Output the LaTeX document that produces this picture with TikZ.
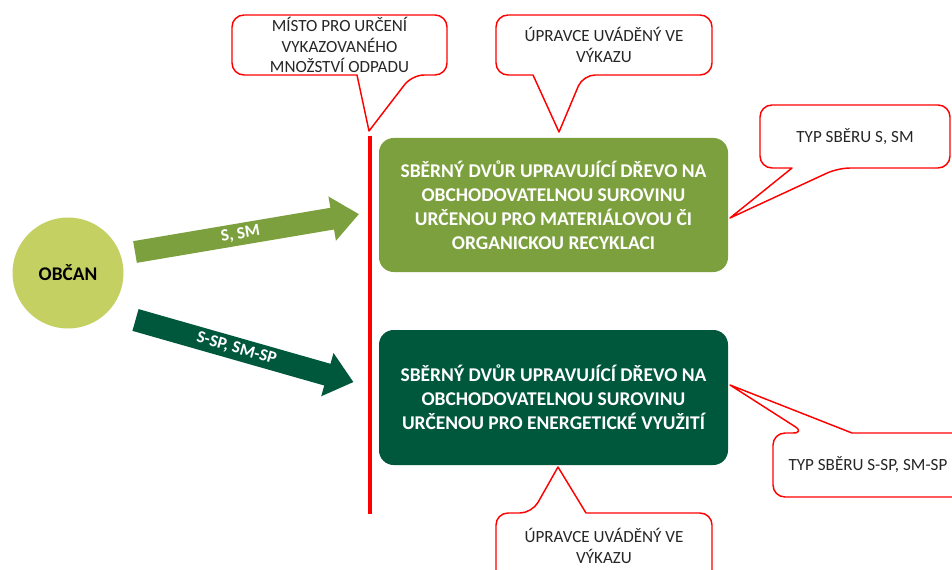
\documentclass[tikz,border=0pt]{standalone}
\usepackage{fontspec}
\setmainfont{Carlito}
\definecolor{olivebox}{HTML}{7DA03E}
\definecolor{darkbox}{HTML}{00583C}
\definecolor{citizen}{HTML}{C5D063}
\definecolor{bubbletext}{HTML}{262626}
\begin{document}
\begin{tikzpicture}[x=0.75pt,y=-0.75pt]
		\tikzset{box/.style = {shape=rectangle, rounded corners=11pt, minimum width=261.75pt, minimum height=100.5pt, text=white, align=center, font=\fontsize{14.6}{18}\selectfont\bfseries}}
		\tikzset{bubble/.style = {draw=red, line width=1.1pt, fill=white, line join=round}}
		\tikzset{bubbletxt/.style = {align=center, text=bubbletext, font=\fontsize{12.8}{15.3}\selectfont}}
		\tikzset{arrowtxt/.style = {text=white, inner sep=1pt, font=\fontsize{12.8}{15}\selectfont\bfseries}}

		\clip (0,0) rectangle (952,570);
		\fill[white] (0,0) rectangle (952,570);

		\node[shape=circle, fill=citizen, minimum size=83.25pt, font=\fontsize{14.5}{17}\selectfont\bfseries] (obcan) at (68,273) {OBČAN};

		\node[box, fill=olivebox] (box_1) at (553.5,205) {SBĚRNÝ DVŮR UPRAVUJÍCÍ DŘEVO NA\\OBCHODOVATELNOU SUROVINU\\URČENOU PRO MATERIÁLOVOU ČI\\ORGANICKOU RECYKLACI};
		\node[box, fill=darkbox, minimum height=101.25pt] (box_2) at (553.5,397.5) {SBĚRNÝ DVŮR UPRAVUJÍCÍ DŘEVO NA\\OBCHODOVATELNOU SUROVINU\\URČENOU PRO ENERGETICKÉ VYUŽITÍ};

		\coordinate (L_1) at (370,136);
		\coordinate (L_2) at (370,514);
		\draw[red, line width=3pt] (L_1) -- (L_2);

		\begin{scope}[shift={(135,252)}, rotate=9.6]
			\fill[olivebox] (0,-11) -- (200,-11) -- (200,-22.5) -- (227,0) -- (200,22.5) -- (200,11) -- (0,11) -- cycle;
			\node[arrowtxt, rotate=9.6] (arr_1) at (107,0) {S, SM};
		\end{scope}
		\begin{scope}[shift={(135.5,320)}, rotate=-15.9]
			\fill[darkbox] (0,-11.3) -- (199.5,-11.3) -- (199.5,-22.5) -- (226.5,0) -- (199.5,22.5) -- (199.5,11.3) -- (0,11.3) -- cycle;
			\node[arrowtxt, rotate=-15.9] (arr_2) at (105,0) {S-SP, SM-SP};
		\end{scope}

		\draw[bubble] (357,75) [rounded corners=9] -| (232,15) -| (447,75) -- (412,75) [sharp corners] -- (369,131) -- cycle;
		\draw[bubble] (533,75) [rounded corners=9] -| (496,15) -| (712,75) -- (583,75) [sharp corners] -- (559,132) -- cycle;
		\draw[bubble] (792,168) [rounded corners=9] -| (760,105) -| (950,168) -- (838,168) [sharp corners] -- (730,218) -- cycle;
		\draw[bubble] (852,433) [rounded corners=9] -| (965,497) -| (773,433) -- (805,433) [sharp corners] -- (730,385) -- cycle;
		\draw[bubble] (586,513) [rounded corners=9] -| (712,590) -| (496,513) -- (532,513) [sharp corners] -- (558,467) -- cycle;

		\node[bubbletxt] (misto) at (339.5,45) {MÍSTO PRO URČENÍ\\VYKAZOVANÉHO\\MNOŽSTVÍ ODPADU};
		\node[bubbletxt] (upravce_1) at (604,45) {ÚPRAVCE UVÁDĚNÝ VE\\VÝKAZU};
		\node[bubbletxt] (typ_1) at (855,136.5) {TYP SBĚRU S, SM};
		\node[bubbletxt] (typ_2) at (868,465) {TYP SBĚRU S-SP, SM-SP};
		\node[bubbletxt] (upravce_2) at (604,546) {ÚPRAVCE UVÁDĚNÝ VE\\VÝKAZU};

	\end{tikzpicture}
\end{document}
